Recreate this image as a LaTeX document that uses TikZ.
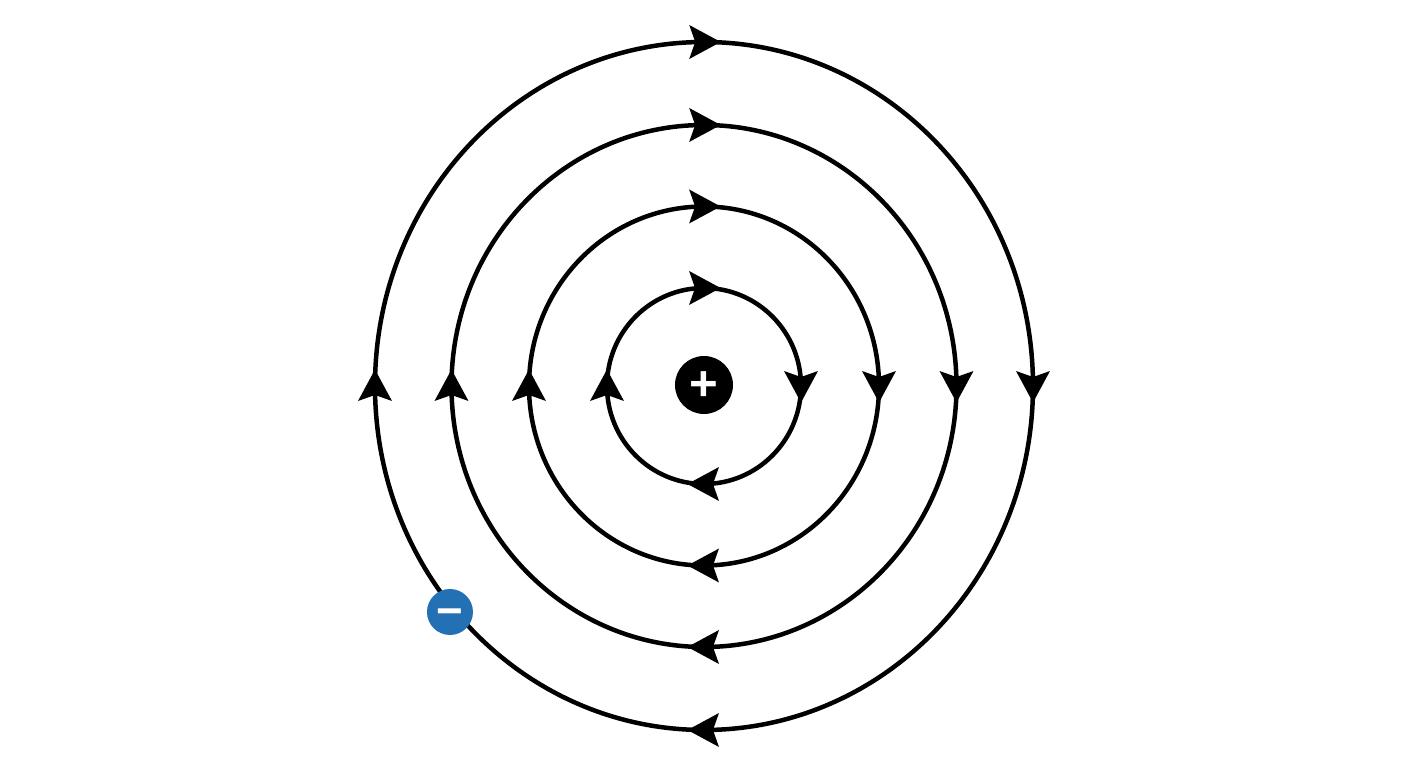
\documentclass[tikz,border=0pt]{standalone}
\usepackage{fontspec}
\usetikzlibrary{decorations.markings}
\newfontfamily\signfont{Liberation Sans}
\definecolor{electronblue}{HTML}{2370B5}
\newcommand{\orbitarrow}{\fill (0.33,0) -- (-0.3,0.34) -- (-0.18,0) -- (-0.3,-0.34) -- cycle;}
\tikzset{
    orbit/.style={line width=0.09cm, postaction={decorate},
        decoration={markings,
            mark=at position 0.0001 with {\orbitarrow},
            mark=at position 0.25 with {\orbitarrow},
            mark=at position 0.5 with {\orbitarrow},
            mark=at position 0.75 with {\orbitarrow}}},
    charge/.style={circle, inner sep=0pt, text=white, text depth=0pt}
}
\begin{document}
\begin{tikzpicture}
        \useasboundingbox (-14.08, -7.64) rectangle (14.08, 7.72);

        %%O1
        \draw[orbit](0, 1.96) arc[start angle=90, end angle=-270, x radius=1.94, y radius=1.96];
        %%O2
        \draw[orbit](0, 3.59) arc[start angle=90, end angle=-270, x radius=3.5, y radius=3.59];
        %%O3
        \draw[orbit](0, 5.22) arc[start angle=90, end angle=-270, x radius=5.05, y radius=5.22];
        %%O4
        \draw[orbit](0, 6.88) arc[start angle=90, end angle=-270, x radius=6.58, y radius=6.88];

        %%nucleus
        \node[charge, fill=black, minimum size=1.16cm, text height=17.4pt](nucleus) at (0, 0.02){\signfont\bfseries\fontsize{28}{28}\selectfont +};
        %%electron
        \node[charge, fill=electronblue, minimum size=0.92cm, text height=16.6pt](electron) at (-5.08, -4.52){\signfont\bfseries\fontsize{26}{26}\selectfont −};

    \end{tikzpicture}
\end{document}
